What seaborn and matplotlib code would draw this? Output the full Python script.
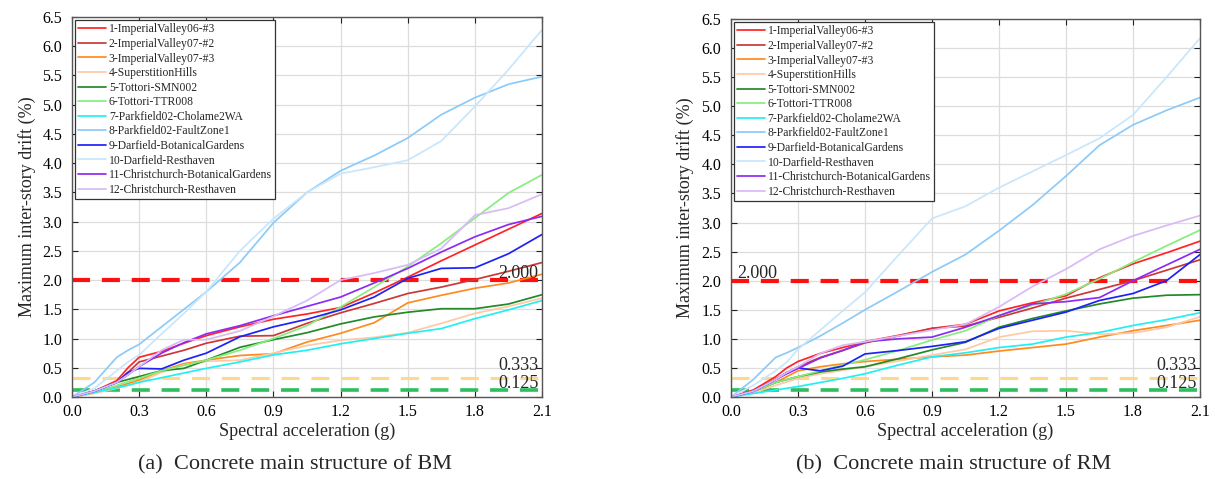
import numpy as np
import pandas as pd
import matplotlib
matplotlib.use("Agg")
import matplotlib.pyplot as plt
import seaborn as sns

# ---------------- data ----------------
sa = [0, 0.1, 0.2, 0.25, 0.3, 0.4, 0.5, 0.6, 0.75, 0.9, 1.05, 1.2, 1.35, 1.5, 1.65, 1.8, 1.95, 2.1]

records = ["1-ImperialValley06-#3", "2-ImperialValley07-#2", "3-ImperialValley07-#3",
           "4-SuperstitionHills", "5-Tottori-SMN002", "6-Tottori-TTR008",
           "7-Parkfield02-Cholame2WA", "8-Parkfield02-FaultZone1",
           "9-Darfield-BotanicalGardens", "10-Darfield-Resthaven",
           "11-Christchurch-BotanicalGardens", "12-Christchurch-Resthaven"]

colors = ["#FF2424", "#CC3838", "#FF8A1E", "#FFC9A6", "#23892A", "#86EE7E",
          "#22F0F0", "#8CCBF7", "#1E22F5", "#C8E6FC", "#8E2BF2", "#D9BAF7"]

# BM (a)
bm_1 = [0, 0.10, 0.28, 0.50, 0.68, 0.78, 0.92, 1.05, 1.20, 1.33, 1.42, 1.53, 1.78, 2.05, 2.33, 2.60, 2.87, 3.14]
bm_2 = [0, 0.10, 0.25, 0.42, 0.60, 0.70, 0.80, 0.92, 1.04, 1.05, 1.26, 1.44, 1.60, 1.77, 1.88, 2.01, 2.15, 2.30]
bm_3 = [0, 0.07, 0.17, 0.23, 0.29, 0.45, 0.57, 0.63, 0.71, 0.74, 0.94, 1.09, 1.27, 1.61, 1.74, 1.86, 1.95, 2.10]
bm_4 = [0, 0.06, 0.15, 0.20, 0.26, 0.42, 0.55, 0.61, 0.63, 0.75, 0.88, 0.97, 1.02, 1.10, 1.26, 1.43, 1.55, 1.69]
bm_5 = [0, 0.10, 0.25, 0.30, 0.35, 0.45, 0.49, 0.63, 0.85, 0.98, 1.10, 1.25, 1.37, 1.45, 1.51, 1.51, 1.59, 1.75]
bm_6 = [0, 0.08, 0.20, 0.26, 0.32, 0.45, 0.54, 0.63, 0.80, 1.00, 1.22, 1.54, 1.88, 2.23, 2.63, 3.06, 3.49, 3.80]
bm_7 = [0, 0.08, 0.16, 0.20, 0.25, 0.33, 0.41, 0.49, 0.60, 0.72, 0.80, 0.91, 1.00, 1.09, 1.17, 1.34, 1.49, 1.65]
bm_8 = [0, 0.25, 0.68, 0.80, 0.90, 1.20, 1.50, 1.80, 2.30, 2.98, 3.50, 3.87, 4.13, 4.43, 4.83, 5.12, 5.35, 5.48]
bm_9 = [0, 0.10, 0.25, 0.42, 0.49, 0.48, 0.63, 0.75, 1.03, 1.20, 1.33, 1.49, 1.71, 2.03, 2.20, 2.21, 2.45, 2.78]
bm_10 = [0, 0.15, 0.45, 0.60, 0.72, 1.08, 1.43, 1.80, 2.50, 3.05, 3.50, 3.82, 3.93, 4.05, 4.38, 4.97, 5.60, 6.28]
bm_11 = [0, 0.10, 0.25, 0.38, 0.52, 0.75, 0.93, 1.08, 1.22, 1.39, 1.55, 1.71, 1.95, 2.20, 2.48, 2.74, 2.95, 3.09]
bm_12 = [0, 0.10, 0.25, 0.38, 0.52, 0.80, 0.98, 0.98, 1.13, 1.38, 1.65, 2.00, 2.12, 2.26, 2.54, 3.11, 3.23, 3.47]

# RM (b)
rm_1 = [0, 0.12, 0.35, 0.50, 0.61, 0.75, 0.85, 0.95, 1.06, 1.18, 1.25, 1.48, 1.62, 1.74, 2.05, 2.29, 2.48, 2.68]
rm_2 = [0, 0.10, 0.30, 0.42, 0.52, 0.68, 0.80, 0.93, 1.05, 1.18, 1.22, 1.37, 1.53, 1.70, 1.85, 2.00, 2.18, 2.36]
rm_3 = [0, 0.08, 0.25, 0.35, 0.45, 0.52, 0.57, 0.61, 0.65, 0.69, 0.72, 0.79, 0.85, 0.91, 1.03, 1.14, 1.23, 1.32]
rm_4 = [0, 0.07, 0.20, 0.26, 0.32, 0.40, 0.46, 0.52, 0.62, 0.72, 0.82, 1.03, 1.13, 1.14, 1.08, 1.10, 1.20, 1.38]
rm_5 = [0, 0.10, 0.25, 0.30, 0.35, 0.43, 0.48, 0.52, 0.66, 0.81, 0.94, 1.20, 1.35, 1.48, 1.60, 1.70, 1.75, 1.76]
rm_6 = [0, 0.10, 0.25, 0.30, 0.35, 0.45, 0.55, 0.64, 0.80, 0.98, 1.14, 1.40, 1.58, 1.77, 2.03, 2.32, 2.60, 2.87]
rm_7 = [0, 0.06, 0.12, 0.15, 0.18, 0.25, 0.32, 0.40, 0.55, 0.69, 0.76, 0.85, 0.91, 1.03, 1.11, 1.23, 1.33, 1.45]
rm_8 = [0, 0.30, 0.68, 0.76, 0.85, 1.05, 1.27, 1.50, 1.82, 2.15, 2.45, 2.86, 3.30, 3.80, 4.33, 4.68, 4.93, 5.15]
rm_9 = [0, 0.10, 0.30, 0.42, 0.50, 0.45, 0.53, 0.74, 0.80, 0.87, 0.95, 1.18, 1.32, 1.46, 1.66, 1.78, 2.00, 2.45]
rm_10 = [0, 0.20, 0.45, 0.60, 0.82, 1.15, 1.48, 1.80, 2.44, 3.07, 3.28, 3.60, 3.88, 4.16, 4.45, 4.85, 5.50, 6.17]
rm_11 = [0, 0.10, 0.30, 0.40, 0.49, 0.67, 0.80, 0.95, 1.00, 1.03, 1.20, 1.40, 1.60, 1.64, 1.71, 2.00, 2.27, 2.54]
rm_12 = [0, 0.10, 0.30, 0.42, 0.52, 0.75, 0.89, 0.95, 1.05, 1.15, 1.25, 1.55, 1.90, 2.20, 2.54, 2.77, 2.95, 3.12]

bm_series = [bm_1, bm_2, bm_3, bm_4, bm_5, bm_6, bm_7, bm_8, bm_9, bm_10, bm_11, bm_12]
rm_series = [rm_1, rm_2, rm_3, rm_4, rm_5, rm_6, rm_7, rm_8, rm_9, rm_10, rm_11, rm_12]

limits = [2.0, 0.333, 0.125]
limit_labels = ["2.000", "0.333", "0.125"]
limit_colors = ["#FF1010", "#FFD98A", "#2DBE5E"]

x_ticks = [0.0, 0.3, 0.6, 0.9, 1.2, 1.5, 1.8, 2.1]
y_ticks = [0.0, 0.5, 1.0, 1.5, 2.0, 2.5, 3.0, 3.5, 4.0, 4.5, 5.0, 5.5, 6.0, 6.5]
captions = ["(a)  Concrete main structure of BM", "(b)  Concrete main structure of RM"]

# ---------------- style ----------------
sns.set_style("whitegrid")
plt.rcParams['font.family'] = ['Liberation Serif', 'DejaVu Serif']

fig = plt.figure(figsize=(12.15, 4.79), dpi=100)
ax_a = fig.add_axes([0.0593, 0.1712, 0.3868, 0.7933])
ax_b = fig.add_axes([0.6016, 0.1712, 0.3861, 0.7891])


def make_df(series):
    rows = []
    for name, vals in zip(records, series):
        for x, y in zip(sa, vals):
            rows.append({"Sa": x, "Drift": y, "Record": name})
    return pd.DataFrame(rows)


palette = dict(zip(records, colors))

for ax, series, cap, label_left in [(ax_a, bm_series, captions[0], False),
                                    (ax_b, rm_series, captions[1], True)]:
    df = make_df(series)
    sns.lineplot(data=df, x="Sa", y="Drift", hue="Record", palette=palette,
                 hue_order=records, estimator=None, sort=False, linewidth=1.25,
                 ax=ax, legend=True)
    lw_lim = [3.0, 2.2, 2.6]
    for val, col, lw in zip(limits, limit_colors, lw_lim):
        ax.axhline(val, color=col, linestyle="--", dashes=(13.0 / lw, 8.5 / lw),
                   linewidth=lw, zorder=1.5)

    # limit labels
    if label_left:
        ax.text(0.03, 2.05, limit_labels[0], ha="left", va="baseline", fontsize=13)
    else:
        ax.text(2.085, 2.03, limit_labels[0], ha="right", va="baseline", fontsize=13)
    ax.text(2.085, 0.47, limit_labels[1], ha="right", va="baseline", fontsize=13)
    ax.text(2.085, 0.16, limit_labels[2], ha="right", va="baseline", fontsize=13)

    ax.set_xlim(0, 2.1)
    ax.set_ylim(0, 6.5)
    ax.set_xticks(x_ticks)
    ax.set_yticks(y_ticks)
    ax.set_xticklabels([f"{t:.1f}" for t in x_ticks], fontsize=11.5)
    ax.set_yticklabels([f"{t:.1f}" for t in y_ticks], fontsize=11.5)
    ax.tick_params(direction="in", length=4, width=0.8, top=True, right=True,
                   bottom=True, left=True, colors="#222222")
    ax.tick_params(axis="x", pad=5)
    ax.tick_params(axis="y", pad=7)
    for lab in ax.get_xticklabels() + ax.get_yticklabels():
        lab.set_color("black")
    ax.grid(True, color="#DDDDDD", linewidth=0.9)
    for sp in ax.spines.values():
        sp.set_color("#555555")
        sp.set_linewidth(1.0)
    ax.set_xlabel("Spectral acceleration (g)", fontsize=13, labelpad=2)
    ax.set_ylabel("Maximum inter-story drift (%)", fontsize=13, labelpad=5)

    handles, labels = ax.get_legend_handles_labels()
    leg = ax.legend(handles, labels, loc="upper left", fontsize=8.4, frameon=True,
                    fancybox=False, framealpha=1, edgecolor="#333333",
                    handlelength=2.35, handletextpad=0.25, labelspacing=0.22,
                    borderpad=0.3, borderaxespad=0.25)
    leg.get_frame().set_linewidth(0.9)

    pos = ax.get_position()
    fig.text((pos.x0 + pos.x1) / 2 - 0.01, 0.03, cap, ha="center", va="center", fontsize=16)

fig.savefig("out.png", dpi=100)
